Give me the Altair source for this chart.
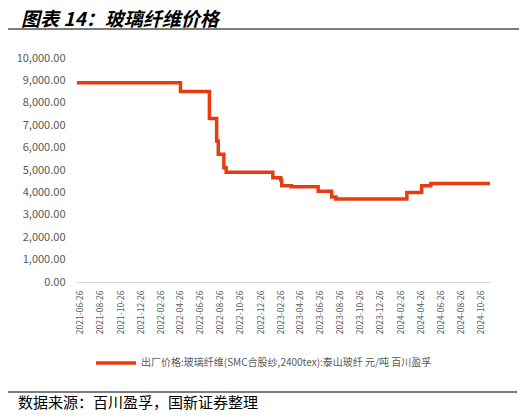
#%%
import pandas as pd
import altair as alt
#%%
# Price change points (step line, yuan/ton)
dates = ['2021-06-17', '2022-04-28', '2022-07-25', '2022-08-16', '2022-08-21',
         '2022-09-07', '2022-09-14', '2023-02-03', '2023-02-27', '2023-03-02',
         '2023-04-01', '2023-06-21', '2023-08-01', '2023-08-14', '2024-03-17',
         '2024-05-01', '2024-05-29', '2024-11-25']
prices = [8900, 8500, 7300, 6300, 5700,
          5100, 4900, 4650, 4550, 4300,
          4250, 4050, 3800, 3700, 4000,
          4300, 4400, 4400]
series_name = '出厂价格:玻璃纤维(SMC合股纱,2400tex):泰山玻纤 元/吨 百川盈孚'
title_text = '图表 14：玻璃纤维价格'
source_text = '数据来源：百川盈孚，国新证券整理'
y_ticks = [0, 1000, 2000, 3000, 4000, 5000, 6000, 7000, 8000, 9000, 10000]
# x tick labels every two months on the 26th
x_tick_months = [(2021, m) for m in (6, 8, 10, 12)] + \
    [(2022, m) for m in (2, 4, 6, 8, 10, 12)] + \
    [(2023, m) for m in (2, 4, 6, 8, 10, 12)] + \
    [(2024, m) for m in (2, 4, 6, 8, 10)]

FONT = 'Noto Sans CJK SC'
GREY = '#595959'
RED = '#E63C10'
#%%
df = pd.DataFrame({'date': dates, 'price': prices, 'series': series_name})
one = pd.DataFrame({'a': [0]})

line = (alt.Chart(df)
    .mark_line(interpolate='step-after', strokeWidth=3.5, color=RED)
    .encode(
        alt.X('date:T',
            scale=alt.Scale(type='utc', domain=[alt.DateTime(year=2021, month=6, date=17, utc=True),
                                               alt.DateTime(year=2024, month=11, date=25, utc=True)]),
            axis=alt.Axis(values=[alt.DateTime(year=y, month=m, date=26, utc=True) for y, m in x_tick_months],
                          labelExpr="utcFormat(datum.value, '%Y-%m-%d')", labelAngle=-90, title=None,
                          ticks=False, grid=False, domainColor='#D9D9D9', domainWidth=1,
                          labelColor=GREY, labelFontSize=8.5, labelFont=FONT, labelPadding=8,
                          labelOverlap=False, labelFlush=False)),
        alt.Y('price:Q',
            scale=alt.Scale(domain=[0, 10000], nice=False),
            axis=alt.Axis(values=y_ticks, format=',.2f', title=None, ticks=False, grid=False,
                          domain=False, labelColor=GREY, labelFontSize=11, labelFont=FONT,
                          labelPadding=12)),
        alt.Color('series:N', scale=alt.Scale(range=[RED]),
            legend=alt.Legend(orient='none', legendX=17, legendY=283, title=None,
                              symbolType='stroke', symbolSize=1600, symbolStrokeWidth=3.5,
                              labelFont=FONT, labelFontSize=10, labelColor=GREY,
                              labelLimit=500, labelOffset=3)))
    )

top_rule = alt.Chart(one).mark_rule(color='#505050', strokeWidth=1.5).encode(
    x=alt.value(-72), x2=alt.value(445), y=alt.value(-29))
bottom_rule = alt.Chart(one).mark_rule(color='#505050', strokeWidth=1.5).encode(
    x=alt.value(-72), x2=alt.value(440), y=alt.value(334))

title = alt.Chart(one).mark_text(align='left', baseline='middle', font=FONT, fontSize=19,
                                 fontWeight='bold', fontStyle='italic', color='#000000').encode(
    x=alt.value(-56), y=alt.value(-38), text=alt.value(title_text))
source = alt.Chart(one).mark_text(align='left', baseline='middle', font=FONT, fontSize=15,
                                  color='#000000').encode(
    x=alt.value(-59), y=alt.value(345), text=alt.value(source_text))

chart = (alt.layer(line, top_rule, bottom_rule, title, source)
    .properties(width=413, height=224, autosize=alt.AutoSizeParams(type='none'),
                padding={'left': 69, 'top': 50, 'right': 29, 'bottom': 129})
    .configure_view(stroke=None))
#%%
chart.save("out.html", embed_options={"renderer": "svg", "actions": False})
